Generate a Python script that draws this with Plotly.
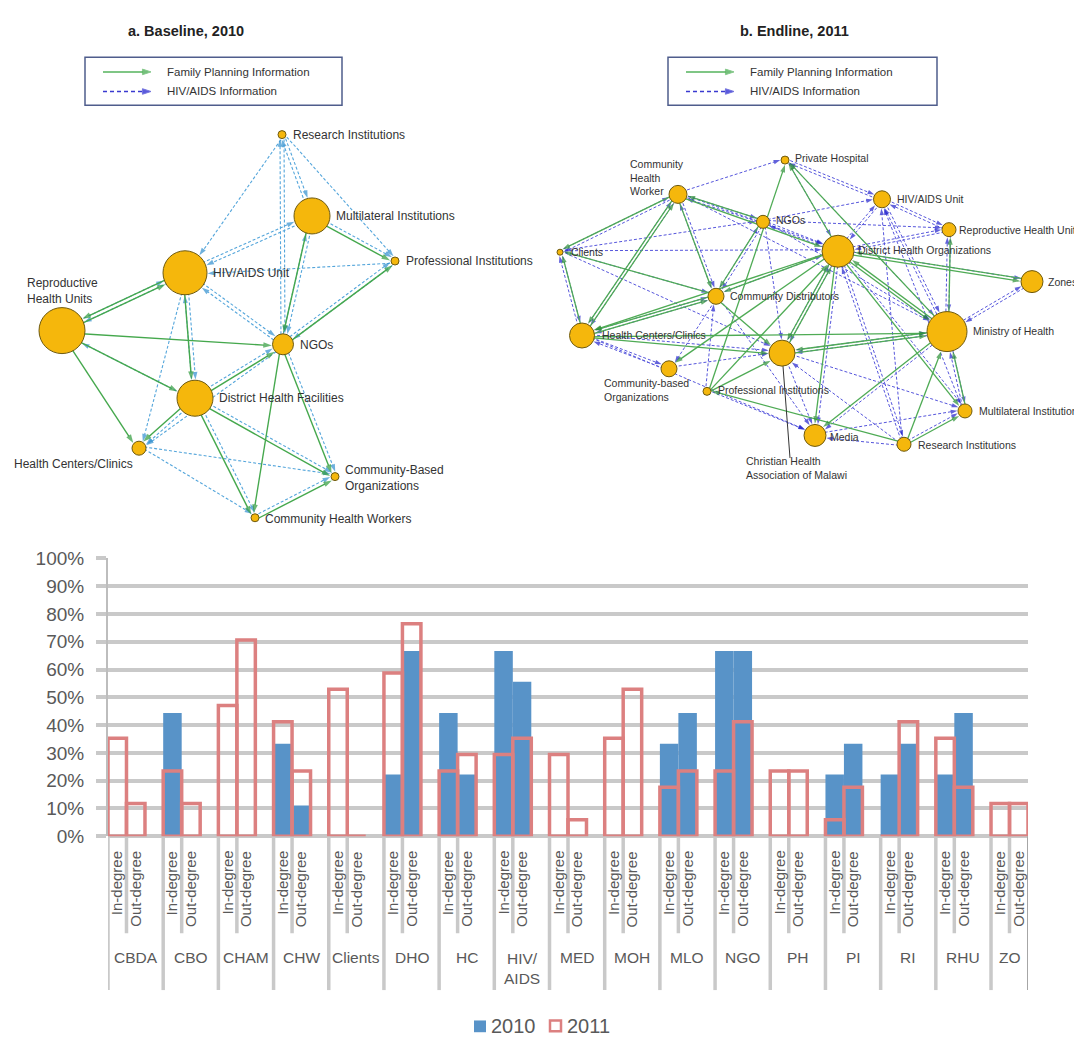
import math
import plotly.graph_objects as go

W, H = 1082, 1046
OFF = 8  # the page places the figure 8px from the window's top-left corner

# ---------------- bar chart data ----------------
categories = ["CBDA", "CBO", "CHAM", "CHW", "Clients", "DHO", "HC", "HIV/<br>AIDS", "MED",
              "MOH", "MLO", "NGO", "PH", "PI", "RI", "RHU", "ZO"]
degree_labels = ["In-degree", "Out-degree"]
in_2010 = [0, 44.4, 0, 33.3, 0, 22.2, 44.4, 66.7, 0, 0, 33.3, 66.7, 0, 22.2, 22.2, 22.2, 0]
out_2010 = [0, 0, 0, 11.1, 0, 66.7, 22.2, 55.6, 0, 0, 44.4, 66.7, 0, 33.3, 33.3, 44.4, 0]
in_2011 = [35.3, 23.5, 47.1, 41.2, 52.9, 58.8, 23.5, 29.4, 29.4, 35.3, 17.6, 23.5, 23.5, 5.9, 0, 35.3, 11.8]
out_2011 = [11.8, 11.8, 70.6, 23.5, 0, 76.5, 29.4, 35.3, 5.9, 52.9, 23.5, 41.2, 23.5, 17.6, 41.2, 17.6, 11.8]
y_tick_values = list(range(0, 101, 10))
y_tick_labels = [f"{v}%" for v in y_tick_values]
series_names = ["2010", "2011"]

# ---------------- network a (Baseline, 2010) ----------------
net_a_title = "a. Baseline, 2010"
nodes_a = ["RI", "MLO", "PI", "HIV", "RHU", "NGO", "DHF", "HC", "CBO", "CHW"]
nodes_a_x = [282, 312, 395, 185, 62, 283, 195, 139, 335, 255]
nodes_a_y = [127, 210, 256, 268, 327, 341, 396, 447, 476, 518]
nodes_a_r = [4, 18, 4, 22, 23, 10.5, 18, 7, 4, 4]
labels_a = ["Research Institutions", "Multilateral Institutions", "Professional Institutions",
            "HIV/AIDS Unit", "Reproductive<br>Health Units", "NGOs", "District Health Facilities",
            "Health Centers/Clinics", "Community-Based<br>Organizations", "Community Health Workers"]
labels_a_x = [291, 334, 404, 211, 25, 298, 217, 12, 343, 263]
labels_a_y = [127, 210, 256, 268, 287, 342, 396, 463, 477, 519]
fp_edges_a = [("RHU", "HIV"), ("HIV", "RHU"), ("RHU", "NGO"), ("RHU", "DHF"), ("RHU", "HC"),
              ("HIV", "DHF"), ("MLO", "NGO"), ("MLO", "PI"), ("NGO", "PI"), ("DHF", "NGO"),
              ("DHF", "HC"), ("DHF", "CHW"), ("DHF", "CBO"), ("NGO", "CHW"), ("NGO", "CBO"),
              ("CHW", "CBO")]
hiv_edges_a = [("RI", "HIV"), ("RI", "MLO"), ("MLO", "RI"), ("RI", "NGO"), ("NGO", "RI"), ("RI", "PI"),
               ("MLO", "HIV"), ("HIV", "MLO"), ("MLO", "NGO"), ("NGO", "MLO"), ("PI", "HIV"),
               ("PI", "NGO"), ("NGO", "PI"), ("HIV", "NGO"), ("NGO", "HIV"), ("HIV", "DHF"),
               ("DHF", "HIV"), ("HIV", "HC"), ("RHU", "HIV"), ("HIV", "RHU"), ("DHF", "RHU"),
               ("DHF", "NGO"), ("HC", "CBO"), ("HC", "CHW"), ("DHF", "CBO"), ("DHF", "CHW"),
               ("NGO", "CBO"), ("CHW", "CBO"), ("NGO", "HC"), ("MLO", "PI"), ("DHF", "HC")]

# ---------------- network b (Endline, 2011) ----------------
net_b_title = "b. Endline, 2011"
nodes_b = ["PH", "CHW", "HIV", "NGO", "RHU", "CL", "DHO", "ZO", "CBDA", "MOH", "HC", "CHAM",
           "CBO", "PI", "MLO", "MED", "RI"]
nodes_b_x = [785, 678, 882, 763, 949, 560, 838, 1032, 716, 947, 582, 782, 669, 707, 965, 815, 904]
nodes_b_y = [153, 188, 193, 216, 224, 247, 246, 277, 292, 328, 332, 350, 366, 389, 409, 434, 443]
nodes_b_r = [4, 9, 8.5, 6.5, 7, 3, 16, 11, 8, 20, 12.5, 13, 8, 4, 7, 11, 7]
labels_b = ["Private Hospital", "Community<br>Health<br>Worker", "HIV/AIDS Unit", "NGOs",
            "Reproductive Health Units", "Clients", "District Health Organizations", "Zones",
            "Community Distributors", "Ministry of Health", "Health Centers/Clinics",
            "Christian Health<br>Association of Malawi", "Community-based<br>Organizations",
            "Professional Institutions", "Multilateral Institutions", "Media", "Research Institutions"]
labels_b_x = [793, 628, 895, 774, 957, 569, 856, 1046, 728, 971, 600, 744, 602, 716, 977, 828, 916]
labels_b_y = [151, 171, 193, 214, 224, 247, 245, 277, 292, 327, 331, 467, 388, 388, 409, 436, 444]
fp_edges_b = [("HC", "CL"), ("CHW", "CL"), ("CHW", "HC"), ("HC", "CHW"), ("CHW", "CBDA"),
              ("HC", "CBDA"), ("CBDA", "HC"), ("CBDA", "CL"), ("NGO", "CBDA"), ("NGO", "CHW"),
              ("CHW", "DHO"), ("DHO", "PH"), ("PI", "PH"), ("MOH", "PH"), ("DHO", "CBDA"),
              ("DHO", "HC"), ("HC", "CHAM"), ("HC", "MOH"), ("CHAM", "MOH"), ("CHAM", "DHO"),
              ("DHO", "MED"), ("MOH", "MED"), ("MOH", "DHO"), ("DHO", "MOH"), ("ZO", "DHO"),
              ("DHO", "ZO"), ("MOH", "RHU"), ("MLO", "MOH"), ("RI", "MOH"), ("RI", "MLO"),
              ("RI", "PI"), ("PI", "CHAM"), ("PI", "DHO"), ("CBDA", "CHAM"), ("DHO", "CBO"),
              ("DHO", "CHAM"), ("MOH", "CHAM"), ("DHO", "MLO")]
hiv_edges_b = [("CHW", "PH"), ("HIV", "PH"), ("PH", "HIV"), ("NGO", "HIV"), ("HIV", "RHU"),
               ("RHU", "HIV"), ("DHO", "HIV"), ("HIV", "DHO"), ("MOH", "HIV"), ("RI", "HIV"),
               ("MLO", "HIV"), ("DHO", "RHU"), ("RHU", "DHO"), ("MOH", "RHU"), ("RHU", "MOH"),
               ("ZO", "MOH"), ("MOH", "ZO"), ("DHO", "ZO"), ("CL", "DHO"), ("CL", "CHW"),
               ("CHW", "CL"), ("CL", "HC"), ("HC", "CL"), ("CL", "CBDA"), ("CL", "NGO"),
               ("CL", "CHAM"), ("CHW", "CBDA"), ("CBDA", "CHW"), ("CHW", "HC"), ("HC", "CHW"),
               ("CHW", "NGO"), ("NGO", "CHW"), ("CHW", "DHO"), ("NGO", "DHO"), ("DHO", "NGO"),
               ("NGO", "CBDA"), ("NGO", "CHAM"), ("CBDA", "NGO"), ("CBDA", "HC"), ("HC", "CBDA"),
               ("CBDA", "CBO"), ("CBDA", "DHO"), ("CBDA", "MED"), ("HC", "CBO"), ("HC", "CHAM"),
               ("HC", "MED"), ("CBO", "CHAM"), ("CHAM", "MLO"), ("CHAM", "MOH"), ("CHAM", "DHO"),
               ("CHAM", "MED"), ("DHO", "CHAM"), ("MOH", "CHAM"), ("RI", "CHAM"), ("RI", "DHO"),
               ("RI", "MED"), ("RI", "MLO"), ("MED", "MLO"), ("PI", "MED"), ("PI", "CBDA"),
               ("MOH", "MLO"), ("MLO", "MOH"), ("DHO", "MLO"), ("MOH", "MED"), ("DHO", "MED"),
               ("NGO", "MOH"), ("CHW", "MOH"), ("NGO", "RHU"), ("CBO", "HC"), ("PH", "DHO"),
               ("PH", "MOH"), ("HIV", "MOH"), ("DHO", "RI")]

legend_items = ["Family Planning Information", "HIV/AIDS Information"]

# ---------------- styles ----------------
BLUE_BAR = "#5893c8"
RED_LINE = "#dc8080"
GRID = "#c9c9c9"
TXT = "#595959"
NODE_FILL = "#f5b70c"
NODE_LINE = "#6e5a10"
FONT = "Liberation Sans"

fig = go.Figure()


def px(p):
    return (p - OFF) / W


def py(p):
    return (H - (p - OFF)) / H


# ---------------- network helpers ----------------
def edge_trace(edges, names, xs, ys, rs, color, arrow_color, width, dash, size, off):
    pos = {n: (x, y) for n, x, y in zip(names, xs, ys)}
    rad = dict(zip(names, rs))
    ex, ey, sz, so = [], [], [], []
    for s, t in edges:
        x0, y0 = pos[s]
        x1, y1 = pos[t]
        dx, dy = x1 - x0, y1 - y0
        L = math.hypot(dx, dy)
        nx, ny = -dy / L * off, dx / L * off
        ex += [x0 + nx, x1 + nx, None]
        ey += [y0 + ny, y1 + ny, None]
        sz += [0, size, 0]
        so += [0, rad[t] + 0.5, 0]
    return go.Scatter(x=ex, y=ey, mode="lines+markers", xaxis="x", yaxis="y",
                      line=dict(color=color, width=width, dash=dash),
                      marker=dict(symbol="arrow", size=sz, standoff=so, angleref="previous",
                                  color=arrow_color, line=dict(width=0)),
                      hoverinfo="skip", showlegend=False)


def node_trace(xs, ys, rs):
    return go.Scatter(x=xs, y=ys, mode="markers", xaxis="x", yaxis="y",
                      marker=dict(size=[2 * r for r in rs], color=NODE_FILL, opacity=1,
                                  line=dict(color=NODE_LINE, width=1)),
                      hoverinfo="skip", showlegend=False)


# network a edges
fig.add_trace(edge_trace(hiv_edges_a, nodes_a, nodes_a_x, nodes_a_y, nodes_a_r,
                         "#55a6db", "#2f8fcf", 1.1, "3px,2px", 8, -2.0))
fig.add_trace(edge_trace(fp_edges_a, nodes_a, nodes_a_x, nodes_a_y, nodes_a_r,
                         "#45a84d", "#2e9a3a", 1.4, "solid", 9, 2.0))
fig.add_trace(node_trace(nodes_a_x, nodes_a_y, nodes_a_r))

# network b edges
fig.add_trace(edge_trace(hiv_edges_b, nodes_b, nodes_b_x, nodes_b_y, nodes_b_r,
                         "#5656dc", "#1f1fcc", 1.0, "3px,2px", 7, -1.5))
fig.add_trace(edge_trace(fp_edges_b, nodes_b, nodes_b_x, nodes_b_y, nodes_b_r,
                         "#4fab55", "#2a8f33", 1.3, "solid", 8, 1.5))
# CHAM leader line
cham_i = nodes_b.index("CHAM")
fig.add_trace(go.Scatter(x=[nodes_b_x[cham_i], nodes_b_x[cham_i] + 8],
                         y=[nodes_b_y[cham_i], 457], mode="lines", xaxis="x", yaxis="y",
                         line=dict(color="#333333", width=1), hoverinfo="skip", showlegend=False))
fig.add_trace(node_trace(nodes_b_x, nodes_b_y, nodes_b_r))

annotations = []
shapes = []

for txt, lx, ly in zip(labels_a, labels_a_x, labels_a_y):
    annotations.append(dict(text=txt, x=lx, y=ly, xref="x", yref="y", xanchor="left",
                            yanchor="middle", align="left", showarrow=False,
                            font=dict(family=FONT, size=12, color="#333333")))
for txt, lx, ly in zip(labels_b, labels_b_x, labels_b_y):
    annotations.append(dict(text=txt, x=lx, y=ly, xref="x", yref="y", xanchor="left",
                            yanchor="middle", align="left", showarrow=False,
                            font=dict(family=FONT, size=10.5, color="#333333")))

# titles
annotations.append(dict(text="<b>" + net_a_title + "</b>", x=186, y=21, xref="x", yref="y",
                        showarrow=False, font=dict(family=FONT, size=14.5, color="#222222")))
annotations.append(dict(text="<b>" + net_b_title + "</b>", x=794, y=21, xref="x", yref="y",
                        showarrow=False, font=dict(family=FONT, size=14.5, color="#222222")))

# network legend boxes
for (bx0, bx1) in [(85, 342), (668, 937)]:
    shapes.append(dict(type="rect", xref="x", yref="y", x0=bx0, x1=bx1, y0=48, y1=97,
                       line=dict(color="#4f5d8c", width=1.5), fillcolor="rgba(0,0,0,0)"))
    sx0 = bx0 + 18
    fig.add_trace(go.Scatter(x=[sx0, sx0 + 48], y=[63, 63], mode="lines+markers",
                             xaxis="x", yaxis="y", line=dict(color="#55b35c", width=1.5),
                             marker=dict(symbol="arrow", size=[0, 9], angleref="previous",
                                         color="#3aa544"),
                             hoverinfo="skip", showlegend=False))
    fig.add_trace(go.Scatter(x=[sx0, sx0 + 48], y=[83, 83], mode="lines+markers",
                             xaxis="x", yaxis="y",
                             line=dict(color="#3a3ad0", width=1.5, dash="4px,3px"),
                             marker=dict(symbol="arrow", size=[0, 9], angleref="previous",
                                         color="#1515d0"),
                             hoverinfo="skip", showlegend=False))
    for txt, ly in zip(legend_items, [63, 83]):
        annotations.append(dict(text=txt, x=sx0 + 62, y=ly, xref="x", yref="y",
                                xanchor="left", yanchor="middle", showarrow=False,
                                font=dict(family=FONT, size=11.5, color="#333333")))

# ---------------- bar chart ----------------
half = 0.1675
bw = 0.335
bar_x, v2010, v2011, sub_text = [], [], [], []
for i in range(len(categories)):
    bar_x += [i - half, i + half]
    v2010 += [in_2010[i], out_2010[i]]
    v2011 += [in_2011[i], out_2011[i]]
    sub_text += degree_labels

fig.add_trace(go.Bar(x=bar_x, y=v2010, width=bw, name=series_names[0], xaxis="x2", yaxis="y2",
                     marker=dict(color=BLUE_BAR, line=dict(width=0)), hoverinfo="skip",
                     showlegend=False))
fig.add_trace(go.Bar(x=bar_x, y=v2011, width=bw, name=series_names[1], xaxis="x2", yaxis="y2",
                     marker=dict(color="rgba(0,0,0,0)", line=dict(color=RED_LINE, width=3.5)),
                     hoverinfo="skip", showlegend=False))

axis_y_px = 843
n = len(categories)
# separators
for i in range(n):
    shapes.append(dict(type="line", xref="x2", yref="paper", x0=i - bw, x1=i - bw,
                       y0=py(axis_y_px), y1=py(1000), line=dict(color=GRID, width=3.5),
                       layer="below"))
    shapes.append(dict(type="line", xref="x2", yref="paper", x0=i, x1=i,
                       y0=py(axis_y_px), y1=py(942), line=dict(color=GRID, width=3.5),
                       layer="below"))
shapes.append(dict(type="line", xref="x2", yref="paper", x0=n - 1 + bw, x1=n - 1 + bw,
                   y0=py(axis_y_px), y1=py(1000), line=dict(color="#a6a6a6", width=2)))

for xi, t in zip(bar_x, sub_text):
    annotations.append(dict(text=t, x=xi, y=py(856), xref="x2", yref="paper", textangle=-90,
                            xanchor="center", yanchor="top", showarrow=False,
                            font=dict(family=FONT, size=15, color=TXT)))
for i, c in enumerate(categories):
    right = (i + 1 - bw) if i < n - 1 else (n - 1 + bw)
    cx = (i - bw + right) / 2
    two_line = "<br>" in c
    annotations.append(dict(text=c, x=cx, y=py(957) if two_line else py(967), xref="x2",
                            yref="paper", xanchor="center",
                            yanchor="top" if two_line else "middle", showarrow=False,
                            font=dict(family=FONT, size=15.5, color=TXT)))

# bar legend (drawn)
shapes.append(dict(type="rect", xref="paper", yref="paper", x0=px(474), x1=px(486),
                   y0=py(1043), y1=py(1031), fillcolor=BLUE_BAR, line=dict(width=0)))
shapes.append(dict(type="rect", xref="paper", yref="paper", x0=px(550), x1=px(561),
                   y0=py(1042), y1=py(1031), fillcolor="rgba(0,0,0,0)",
                   line=dict(color=RED_LINE, width=2.5)))
annotations.append(dict(text=series_names[0], x=px(489), y=py(1037), xref="paper", yref="paper",
                        xanchor="left", yanchor="middle", showarrow=False,
                        font=dict(family=FONT, size=20, color=TXT)))
annotations.append(dict(text=series_names[1], x=px(565), y=py(1037), xref="paper", yref="paper",
                        xanchor="left", yanchor="middle", showarrow=False,
                        font=dict(family=FONT, size=20, color=TXT)))

fig.update_layout(
    width=W, height=H, margin=dict(l=0, r=0, t=0, b=0),
    paper_bgcolor="white", plot_bgcolor="rgba(0,0,0,0)",
    barmode="overlay", showlegend=False,
    xaxis=dict(domain=[0, 1], range=[OFF, W + OFF], visible=False, fixedrange=True),
    yaxis=dict(domain=[0, 1], range=[H + OFF, OFF], visible=False, fixedrange=True),
    xaxis2=dict(domain=[px(108), px(1028)], range=[-bw, n - 1 + bw], anchor="y2",
                showgrid=False, zeroline=False, showticklabels=False, ticks=""),
    yaxis2=dict(domain=[py(843), py(559.5)], range=[0, 100], anchor="x2",
                tickvals=y_tick_values, ticktext=y_tick_labels,
                showgrid=True, gridcolor=GRID, gridwidth=3.5,
                zeroline=True, zerolinecolor=GRID, zerolinewidth=3.5,
                showline=True, linecolor="#bdbdbd", linewidth=2,
                ticks="outside", ticklen=10, tickcolor=GRID, tickwidth=3.5,
                ticklabelstandoff=8,
                tickfont=dict(family=FONT, size=19, color=TXT)),
    annotations=annotations, shapes=shapes,
)

fig.write_html("out.html")
